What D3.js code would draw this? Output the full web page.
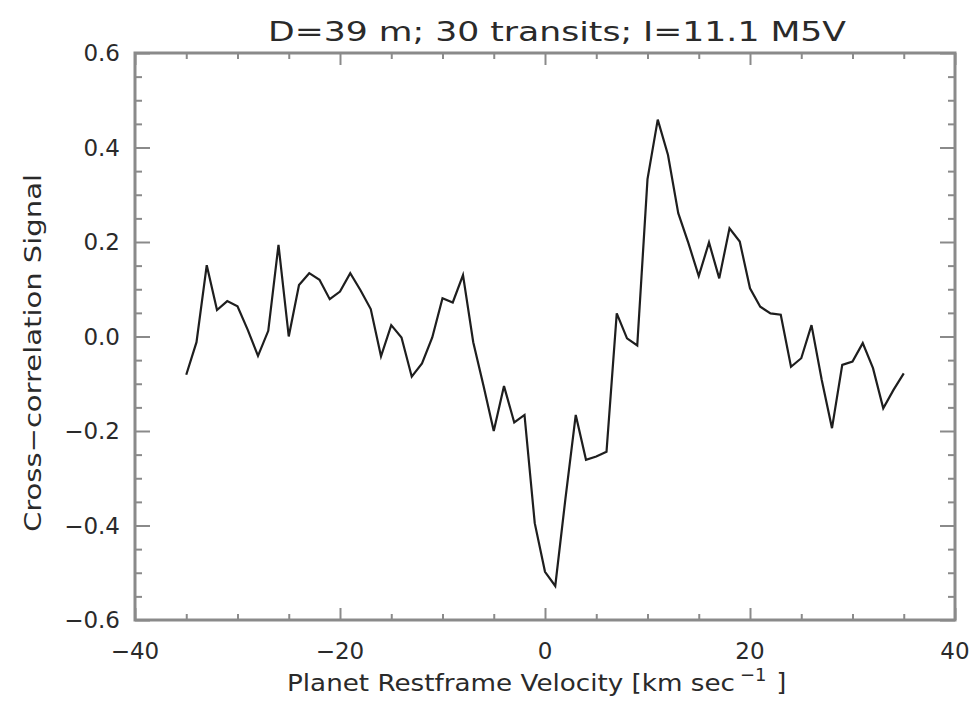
<!DOCTYPE html>
<html>
<head>
<meta charset="utf-8">
<script src="https://cdn.jsdelivr.net/npm/d3@7/dist/d3.min.js"></script>
<style>
  html, body { margin: 0; padding: 0; background: #fff; }
  svg { display: block; }
  text { font-family: "DejaVu Sans", "Liberation Sans", sans-serif; fill: #2a2a2a; }
</style>
</head>
<body>
<svg id="chart" width="974" height="704"></svg>
<script>
// ---- data ----
const titleText = "D=39 m; 30 transits; I=11.1 M5V";
const xTitle = "Planet Restframe Velocity [km sec";
const xTitleSup = "\u22121";
const yTitle = "Cross\u2212correlation Signal";

const velocity = [
  -35,-34,-33,-32,-31,-30,-29,-28,-27,-26,-25,-24,-23,-22,-21,-20,-19,-18,-17,-16,
  -15,-14,-13,-12,-11,-10,-9,-8,-7,-6,-5,-4,-3,-2,-1,0,1,2,3,4,5,6,7,8,9,10,
  11,12,13,14,15,16,17,18,19,20,21,22,23,24,25,26,27,28,29,30,31,32,33,34,35
];
const signal = [
  -0.081,-0.012,0.151,0.056,0.075,0.064,0.014,-0.041,0.012,0.194,0.000,0.109,0.134,0.120,0.079,0.095,0.134,0.098,0.058,-0.042,
  0.024,-0.002,-0.085,-0.057,-0.002,0.081,0.072,0.130,-0.012,-0.104,-0.200,-0.105,-0.182,-0.166,-0.395,-0.498,-0.528,-0.342,-0.166,-0.261,
  -0.254,-0.244,0.049,-0.004,-0.019,0.333,0.459,0.384,0.261,0.197,0.128,0.199,0.123,0.229,0.201,0.102,0.063,0.049,0.046,-0.064,
  -0.046,0.024,-0.092,-0.194,-0.060,-0.053,-0.014,-0.067,-0.152,-0.113,-0.078
];
const xMajorTicks = [-40, -20, 0, 20, 40];
const yMajorTicks = [0.6, 0.4, 0.2, 0.0, -0.2, -0.4, -0.6];
const xDomain = [-40, 40];
const yDomain = [-0.6, 0.6];

// ---- layout ----
const mLeft = 135, mRight = 955, mTop = 53, mBottom = 620;
const svg = d3.select("#chart");
const x = d3.scaleLinear().domain(xDomain).range([mLeft, mRight]);
const y = d3.scaleLinear().domain(yDomain).range([mBottom, mTop]);

const frameColor = "#8a8a8a";
const g = svg.append("g");

const xMinor = d3.range(-40, 40.001, 5).filter(v => Math.abs(v % 20) > 1e-9);
const yMinor = d3.range(-0.6, 0.6001, 0.05).map(v => +v.toFixed(2)).filter(v => Math.abs(Math.round(v * 100) % 20) !== 0);

const xMaj = 12, xMin = 6, yMaj = 15, yMin = 7;

function addAxis(gen, tx, ty, vals, size) {
  g.append("g").attr("transform", `translate(${tx},${ty})`)
    .call(gen.tickValues(vals).tickSize(size).tickFormat(""))
    .call(s => s.select(".domain").remove());
}
addAxis(d3.axisTop(x), 0, mBottom, xMajorTicks, xMaj);
addAxis(d3.axisTop(x), 0, mBottom, xMinor, xMin);
addAxis(d3.axisBottom(x), 0, mTop, xMajorTicks, xMaj);
addAxis(d3.axisBottom(x), 0, mTop, xMinor, xMin);
addAxis(d3.axisRight(y), mLeft, 0, yMajorTicks, yMaj);
addAxis(d3.axisRight(y), mLeft, 0, yMinor, yMin);
addAxis(d3.axisLeft(y), mRight, 0, yMajorTicks, yMaj);
addAxis(d3.axisLeft(y), mRight, 0, yMinor, yMin);

g.selectAll(".tick line").attr("stroke", frameColor).attr("stroke-width", 2);

// frame
g.append("rect")
  .attr("x", mLeft).attr("y", mTop)
  .attr("width", mRight - mLeft).attr("height", mBottom - mTop)
  .attr("fill", "none").attr("stroke", frameColor).attr("stroke-width", 3);

// tick labels
const fmtY = d3.format(".1f");
g.selectAll(".ylab").data(yMajorTicks).join("text")
  .attr("x", mLeft - 15).attr("y", d => y(d) + 8)
  .attr("text-anchor", "end").attr("font-size", 23)
  .text(d => fmtY(d));
g.selectAll(".xlab").data(xMajorTicks).join("text")
  .attr("x", d => x(d)).attr("y", mBottom + 39)
  .attr("text-anchor", "middle").attr("font-size", 23)
  .text(d => d3.format("d")(d));

// line
const line = d3.line().x((d, i) => x(velocity[i])).y(d => y(d));
g.append("path").datum(signal)
  .attr("d", line)
  .attr("fill", "none").attr("stroke", "#1e1e1e").attr("stroke-width", 2.2)
  .attr("stroke-linejoin", "miter");

// titles
svg.append("text")
  .attr("x", 557).attr("y", 41)
  .attr("text-anchor", "middle").attr("font-size", 27)
  .attr("textLength", 578).attr("lengthAdjust", "spacingAndGlyphs")
  .text(titleText);

const xt = svg.append("text")
  .attr("x", 287).attr("y", 691)
  .attr("font-size", 23);
xt.append("tspan").attr("textLength", 448).attr("lengthAdjust", "spacingAndGlyphs").text(xTitle);
xt.append("tspan").attr("dx", 5).attr("dy", -10).attr("font-size", 18).text(xTitleSup);
xt.append("tspan").attr("dx", 10).attr("dy", 10).attr("font-size", 25).text("]");

svg.append("text")
  .attr("transform", `translate(41,353) rotate(-90)`)
  .attr("text-anchor", "middle").attr("font-size", 23)
  .attr("textLength", 358).attr("lengthAdjust", "spacingAndGlyphs")
  .text(yTitle);
</script>
</body>
</html>
